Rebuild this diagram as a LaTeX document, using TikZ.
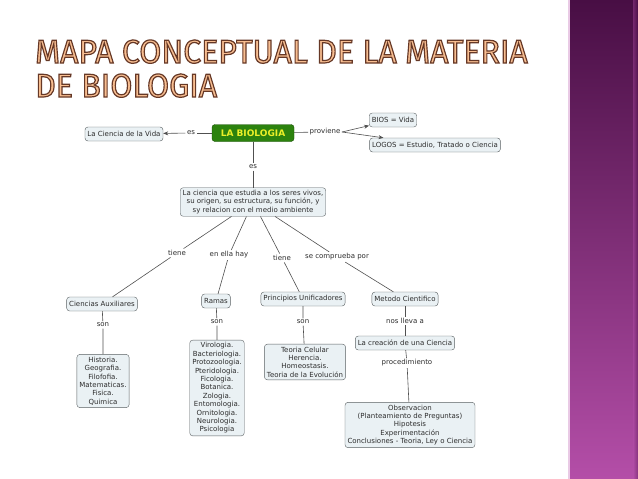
\documentclass[tikz,border=0pt]{standalone}
\usepackage{fontspec}
\setmainfont{DejaVu Sans}
\newfontfamily\titlefont{Fira Sans}
\usetikzlibrary{arrows.meta, shadings}
\definecolor{mapgreen}{RGB}{44,130,14}
\definecolor{mapyellow}{RGB}{236,240,40}
\definecolor{boxfill}{RGB}{234,241,244}
\definecolor{boxedge}{RGB}{90,96,98}
\definecolor{maptext}{RGB}{45,45,45}
\definecolor{linkgray}{RGB}{80,80,80}
\definecolor{titlefill}{RGB}{248,190,145}
\definecolor{bartop}{RGB}{72,14,68}
\definecolor{barbottom}{RGB}{180,78,168}
% outlined title letters
\newcommand{\outlined}[1]{\textcolor{titlefill}{\special{pdf:literal direct 0.4 0.22 0.15 RG 1.2 w 2 Tr}#1\special{pdf:literal direct 0 Tr}}}

\begin{document}
\begin{tikzpicture}[x=1pt, y=-1pt,
  cbox/.style={draw=boxedge, fill=boxfill, rounded corners=3pt, align=center, inner sep=2.5pt, minimum height=14pt, font=\fontsize{7}{8.4}\selectfont, text=maptext},
  rootbox/.style={draw=mapgreen!60!black, fill=mapgreen, rounded corners=3pt, inner sep=3pt, minimum height=17pt, minimum width=82pt, font=\fontsize{9}{10}\selectfont\bfseries, text=mapyellow},
  lbl/.style={fill=white, inner sep=1.5pt, font=\fontsize{7}{8}\selectfont, text=maptext},
  link/.style={draw=linkgray, line width=0.6pt},
  arr/.style={link, -{Stealth[length=5pt, width=4pt]}}
]
  \useasboundingbox (0,0) rectangle (638,479);
  \fill[white] (0,0) rectangle (638,479);

  % side bar
  \shade[top color=bartop, bottom color=barbottom] (568,0) rectangle (638,479);
  \fill[white!70!barbottom] (568,0) rectangle (569.5,479);
  \shade[left color=barbottom, right color=bartop, opacity=0.4] (633,0) rectangle (638,479);

  % title
  \node[anchor=base west, inner sep=0pt] (title1) at (35,63) {\titlefont\fontsize{33}{33}\selectfont\scalebox{0.97}[1]{\outlined{MAPA CONCEPTUAL DE LA MATERIA}}};
  \node[anchor=base west, inner sep=0pt] (title2) at (35,97) {\titlefont\fontsize{33}{33}\selectfont\scalebox{0.97}[1]{\outlined{DE BIOLOGIA}}};

  % top level
  \node[rootbox] (bio) at (253,133) {LA BIOLOGIA};
  \node[cbox] (vida) at (124,134) {La Ciencia de la Vida};
  \node[cbox] (bios) at (393,120) {BIOS = Vida};
  \node[cbox] (logos) at (435,145) {LOGOS = Estudio, Tratado o Ciencia};
  \node[lbl] (es1) at (191,133) {es};
  \node[lbl] (prov) at (325,132) {proviene};
  \node[lbl] (es2) at (253,167) {es};

  \draw[link] (bio) -- (es1);
  \draw[arr] (es1) -- (vida);
  \draw[link] (bio) -- (prov);
  \draw[arr] (prov.east) -- (bios);
  \draw[arr] (prov.east) -- (logos);

  % definition
  \node[cbox] (def) at (253,202) {La ciencia que estudia a los seres vivos,\\su origen, su estructura, su función, y\\sy relacion con el medio ambiente};
  \draw[link] (bio) -- (es2) -- (def);

  % second level
  \node[lbl] (tiene1) at (177,253) {tiene};
  \node[lbl] (hay) at (229,255) {en ella hay};
  \node[lbl] (tiene2) at (282,258) {tiene};
  \node[lbl] (comp) at (337,257) {se comprueba por};

  \node[cbox] (aux) at (102,304) {Ciencias Auxiliares};
  \node[cbox] (ramas) at (216,301) {Ramas};
  \node[cbox] (princ) at (303,299) {Principios Unificadores};
  \node[cbox] (metodo) at (405,299) {Metodo Cientifico};

  \draw[link] (def) -- (tiene1) -- (aux);
  \draw[link] (def) -- (hay) -- (ramas);
  \draw[link] (def) -- (tiene2) -- (princ);
  \draw[link] (def) -- (comp) -- (metodo);

  % third level
  \node[lbl] (son1) at (103,325) {son};
  \node[lbl] (son2) at (217,322) {son};
  \node[lbl] (son3) at (303,322) {son};
  \node[lbl] (lleva) at (405,321) {nos lleva a};
  \node[lbl] (proc) at (407,363) {procedimiento};

  \node[cbox] (hist) at (103,381) {Historia.\\Geografia.\\Filofofia.\\Matematicas.\\Fisica.\\Quimica};
  \node[cbox] (viro) at (217,388) {Virologia.\\Bacteriologia.\\Protozoologia.\\Pteridologia.\\Ficologia.\\Botanica.\\Zologia.\\Entomologia.\\Ornitologia.\\Neurologia.\\Psicologia};
  \node[cbox] (teoria) at (305,362) {Teoria Celular\\Herencia.\\Homeostasis.\\Teoria de la Evolución};
  \node[cbox] (crea) at (405,343) {La creación de una Ciencia};
  \node[cbox] (obs) at (410,425) {Observacion\\(Planteamiento de Preguntas)\\Hipotesis\\Experimentación\\Conclusiones - Teoria, Ley o Ciencia};

  \draw[link] (aux) -- (son1) -- (hist);
  \draw[link] (ramas) -- (son2) -- (viro);
  \draw[link] (princ) -- (son3) -- (teoria);
  \draw[link] (metodo) -- (lleva) -- (crea);
  \draw[link] (crea) -- (proc) -- (obs);
\end{tikzpicture}
\end{document}
